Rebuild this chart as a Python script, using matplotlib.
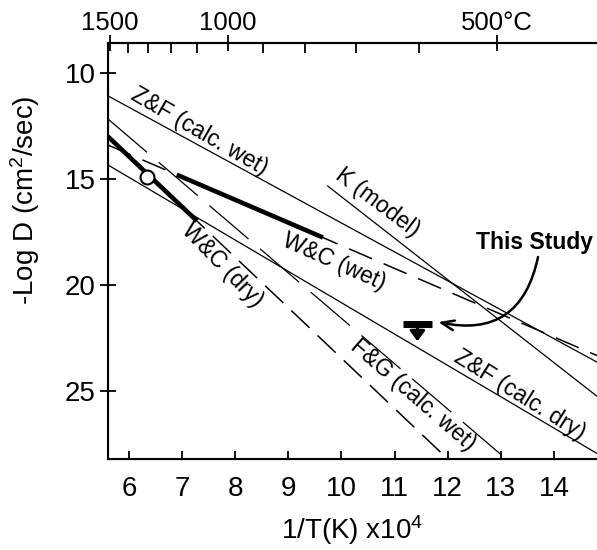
import matplotlib
matplotlib.use('Agg')
import matplotlib.pyplot as plt
import numpy as np

plt.rcParams['font.family'] = ['Liberation Sans', 'DejaVu Sans']
plt.rcParams['mathtext.default'] = 'regular'
plt.rcParams['lines.scale_dashes'] = False

# ---------------- data ----------------
zf_wet_x = [5.605, 14.81]
zf_wet_y = [11.08, 23.64]

k_x = [9.74, 14.81]
k_y = [15.33, 25.25]

wc_wet_x = [5.605, 14.81]
wc_wet_y = [13.40, 23.33]
wc_wet_thick_x = [6.90, 9.65]
wc_wet_thick_y = [14.80, 17.76]

wc_dry_x = [5.605, 12.0]
wc_dry_y = [13.00, 28.21]
wc_dry_thick_x = [5.605, 7.28]
wc_dry_thick_y = [13.00, 16.98]

fg_x = [5.605, 13.1]
fg_y = [12.17, 28.21]

zf_dry_x = [5.605, 14.81]
zf_dry_y = [14.34, 27.95]

circle_x = [6.34]
circle_y = [14.90]

study_x = 11.43
study_bar_x = [11.15, 11.70]
study_y = 21.84
study_tip_y = 22.65

x_ticks = [6, 7, 8, 9, 10, 11, 12, 13, 14]
y_ticks = [10, 15, 20, 25]
top_major_T = [1500, 1000, 500]
top_major_labels = ['1500', '1000', '500°C']
top_minor_T = [1400, 1300, 1200, 1100, 900, 800, 700, 600]

labels = [
    ('Z&F (calc. wet)', 7.32, 12.78, -30),
    ('K (model)', 10.67, 16.13, -37),
    ('W&C (wet)', 9.86, 18.92, -24),
    ('W&C (dry)', 7.75, 19.06, -46),
    ('F&G (calc. wet)', 11.35, 25.19, -41),
    ('Z&F (calc. dry)', 13.36, 25.19, -32),
]

# ---------------- figure ----------------
fig = plt.figure(figsize=(5.97, 5.5), dpi=100)
ax = fig.add_axes([108/597, 1-459/550, 1-108/597, (459-43)/550])

thin = 0.9
ax.plot(zf_wet_x, zf_wet_y, color='black', lw=thin)
ax.plot(k_x, k_y, color='black', lw=thin)
ax.plot(zf_dry_x, zf_dry_y, color='black', lw=thin)
l, = ax.plot(fg_x, fg_y, color='black', lw=thin)
l.set_dashes([37, 11])
l, = ax.plot(wc_wet_x, wc_wet_y, color='black', lw=1.1)
l.set_dashes([18, 9])
ax.plot(wc_wet_thick_x, wc_wet_thick_y, color='black', lw=3.3, solid_capstyle='butt')
l, = ax.plot(wc_dry_x, wc_dry_y, color='black', lw=1.1)
l.set_dashes([18, 8])
ax.plot(wc_dry_thick_x, wc_dry_thick_y, color='black', lw=3.3, solid_capstyle='butt')

ax.plot(circle_x, circle_y, 'o', ms=10, mfc='white', mec='black', mew=1.5, zorder=5)

# upper-limit symbol
ax.plot(study_bar_x, [study_y, study_y], color='black', lw=5, solid_capstyle='butt')
ax.annotate('', xy=(study_x, study_tip_y), xytext=(study_x, study_y),
            arrowprops=dict(arrowstyle='-|>,head_length=0.6,head_width=0.45',
                            color='black', lw=2.2, shrinkA=0, shrinkB=0))

for txt, x, y, rot in labels:
    ax.text(x, y, txt, rotation=rot, ha='center', va='center', fontsize=16.5,
            rotation_mode='anchor')

ax.text(13.64, 18.02, 'This Study', fontsize=16.5, fontweight='bold',
        ha='center', va='center')
ax.annotate('', xy=(11.82, 21.75), xytext=(13.70, 18.68),
            arrowprops=dict(arrowstyle='->,head_length=0.9,head_width=0.35',
                            color='black', lw=1.8, shrinkA=0, shrinkB=0,
                            connectionstyle='arc3,rad=-0.5'))

ax.set_xlim(5.605, 14.81)
ax.set_ylim(28.21, 8.585)

for s in ['left', 'bottom', 'top']:
    ax.spines[s].set_linewidth(1.5)
ax.spines['right'].set_visible(False)

ax.set_xticks(x_ticks)
ax.set_yticks(y_ticks)
ax.tick_params(axis='x', direction='in', length=6, width=1.3, labelsize=20, pad=12)
ax.tick_params(axis='y', direction='inout', length=12, width=1.3, labelsize=20, pad=3)
ax.tick_params(axis='x', top=False)

ax.set_xlabel('1/T(K) x10$^4$', fontsize=20, labelpad=8)
ax.set_ylabel('-Log D (cm$^2$/sec)', fontsize=20)
ax.yaxis.set_label_coords(-0.135, 0.623)

ax2 = ax.twiny()
ax2.set_xlim(ax.get_xlim())
ax2.spines['right'].set_visible(False)
ax2.spines['top'].set_linewidth(1.5)
ax2.set_xticks([1e4/(t+273.15) for t in top_major_T])
ax2.set_xticklabels(top_major_labels)
ax2.set_xticks([1e4/(t+273.15) for t in top_minor_T], minor=True)
ax2.tick_params(axis='x', which='major', direction='inout', length=12, width=1.3,
                labelsize=18.5, pad=0)
ax2.tick_params(axis='x', which='minor', direction='in', length=7, width=1.3)

fig.savefig('out.png', dpi=100)
